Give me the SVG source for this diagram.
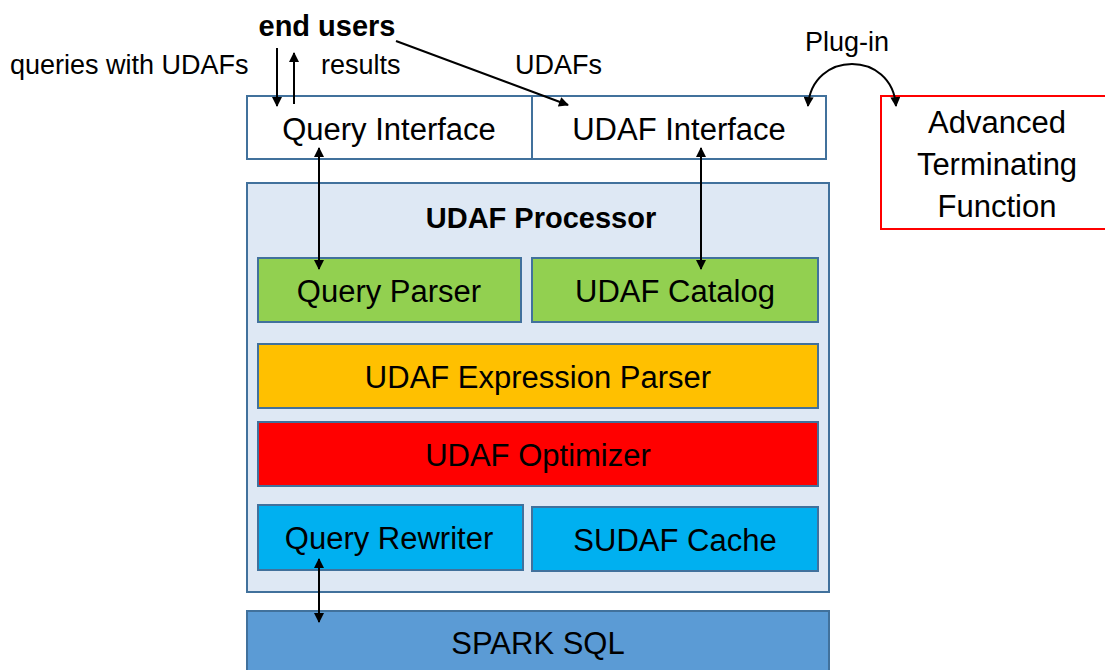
<svg xmlns="http://www.w3.org/2000/svg" width="1105" height="670" viewBox="0 0 1105 670">
<defs>
<marker id="ah" viewBox="0 0 10 10" refX="9" refY="5" markerWidth="11" markerHeight="10" orient="auto-start-reverse" markerUnits="userSpaceOnUse"><path d="M0,0 L10,5 L0,10 z" fill="#000"/></marker>
<style>
text{font-family:"Liberation Sans",Arial,sans-serif;fill:#000;}
.box{stroke:#41719c;stroke-width:2;}
.t{font-size:31px;text-anchor:middle;}
.l{font-size:27px;}
.b{font-size:29px;font-weight:bold;text-anchor:middle;}
.c{stroke:#000;stroke-width:2;fill:none;}
</style>
</defs>
<rect width="1105" height="670" fill="#fff"/>
<g id="query-interface"><rect class="box" x="247" y="96" width="285" height="63" fill="#fff"/><text class="t" x="389" y="140">Query Interface</text></g>
<g id="udaf-interface"><rect class="box" x="532" y="96" width="294" height="63" fill="#fff"/><text class="t" x="679" y="140">UDAF Interface</text></g>
<g id="udaf-processor"><rect class="box" x="247" y="183" width="582" height="409" fill="#dee8f4"/><text class="b" x="541" y="228">UDAF Processor</text></g>
<g id="query-parser"><rect class="box" x="258" y="258" width="263" height="64" fill="#92d050"/><text class="t" x="389" y="302">Query Parser</text></g>
<g id="udaf-catalog"><rect class="box" x="532" y="258" width="286" height="64" fill="#92d050"/><text class="t" x="675" y="302">UDAF Catalog</text></g>
<g id="udaf-expression-parser"><rect class="box" x="258" y="344" width="560" height="64" fill="#ffc000"/><text class="t" x="538" y="388">UDAF Expression Parser</text></g>
<g id="udaf-optimizer"><rect class="box" x="258" y="422" width="560" height="64" fill="#ff0000"/><text class="t" x="538" y="466">UDAF Optimizer</text></g>
<g id="query-rewriter"><rect class="box" x="258" y="505" width="265" height="65" fill="#00b0f0"/><text class="t" x="389" y="549">Query Rewriter</text></g>
<g id="sudaf-cache"><rect class="box" x="532" y="507" width="286" height="64" fill="#00b0f0"/><text class="t" x="675" y="551">SUDAF Cache</text></g>
<g id="spark-sql"><rect class="box" x="247" y="611" width="582" height="70" fill="#5b9bd5"/><text class="t" x="538" y="654">SPARK SQL</text></g>
<g id="advanced-terminating-function"><rect x="881" y="96" width="235" height="133" fill="#fff" stroke="#ff0000" stroke-width="2"/><text class="t" x="997" y="133">Advanced</text><text class="t" x="997" y="175">Terminating</text><text class="t" x="997" y="217">Function</text></g>
<g id="end-users"><text class="b" x="327" y="36">end users</text></g>
<g id="labels">
<text class="l" x="10" y="74">queries with UDAFs</text>
<text class="l" x="321" y="74">results</text>
<text class="l" x="515" y="74">UDAFs</text>
<text class="l" x="805" y="51">Plug-in</text>
</g>
<g id="connectors">
<line class="c" x1="277" y1="48" x2="277" y2="106" marker-end="url(#ah)"/>
<line class="c" x1="294" y1="104" x2="294" y2="53" marker-end="url(#ah)"/>
<line class="c" x1="319" y1="148" x2="319" y2="269" marker-start="url(#ah)" marker-end="url(#ah)"/>
<line class="c" x1="701" y1="148" x2="701" y2="269" marker-start="url(#ah)" marker-end="url(#ah)"/>
<line class="c" x1="319" y1="559" x2="319" y2="622" marker-start="url(#ah)" marker-end="url(#ah)"/>
<line class="c" x1="396" y1="41" x2="568" y2="105" marker-end="url(#ah)"/>
<path class="c" d="M808,106 C812,50 892,50 896,106" marker-start="url(#ah)" marker-end="url(#ah)"/>
</g>
</svg>
